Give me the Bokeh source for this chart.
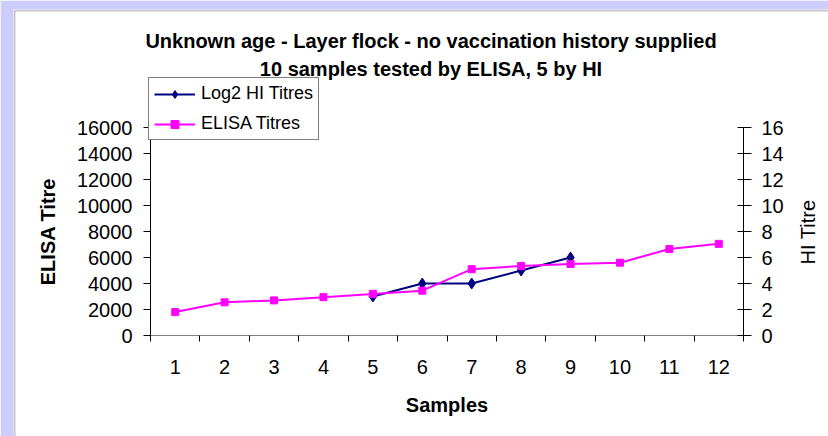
import math
from bokeh.plotting import figure
from bokeh.models import (Range1d, LinearAxis, FixedTicker, Legend, LegendItem,
                          Label, BoxAnnotation)
from bokeh.embed import file_html
from bokeh.resources import INLINE

# ---------------- data ----------------
samples = [1, 2, 3, 4, 5, 6, 7, 8, 9, 10, 11, 12]
elisa_titres = [1800, 2550, 2700, 2950, 3200, 3450, 5100, 5350, 5500, 5600, 6650, 7050]
hi_log2_titres = [math.nan, math.nan, math.nan, math.nan, 3, 4, 4, 5, 6,
                  math.nan, math.nan, math.nan]
elisa_ticks = [0, 2000, 4000, 6000, 8000, 10000, 12000, 14000, 16000]
hi_ticks = [0, 2, 4, 6, 8, 10, 12, 14, 16]
title_lines = ["Unknown age - Layer flock - no vaccination history supplied",
               "10 samples tested by ELISA, 5 by HI"]
series_names = ["Log2 HI Titres", "ELISA Titres"]
right_axis_title = "HI Titre"

# ---------------- layout (pixels) ----------------
W, H = 828, 436
CL, CT = 13, 9                 # white chart area top-left (rest is lavender)
PL, PR, PT, PB = 150, 743, 127, 335   # plot area edges
FONT = "Liberation Sans"

X0, X1 = samples[0] - 0.5, samples[-1] + 0.5
Y1 = elisa_ticks[-1]
HI1 = hi_ticks[-1]
xs = (X1 - X0) / (PR - PL)        # data per px
ys = Y1 / (PB - PT)
hs_ = HI1 / (PB - PT)


def px_to_x(px):
    return X0 + (px - PL) * xs


def px_to_y(py):
    return (PB - py) * ys


x_range = Range1d(px_to_x(CL), px_to_x(W))
y_range = Range1d(px_to_y(H), px_to_y(CT))
hi_range = Range1d((PB - H) * hs_, (PB - CT) * hs_)

p = figure(width=W, height=H, output_backend="svg", toolbar_location=None,
           x_range=x_range, y_range=y_range,
           x_axis_type=None, y_axis_type=None,
           min_border_left=CL, min_border_right=0,
           min_border_top=CT, min_border_bottom=0)
p.border_fill_color = "#CCCCFF"
p.background_fill_color = "white"
p.outline_line_color = None
p.extra_y_ranges = {"hi": hi_range}

# dark border of the chart area (left / top edges)
p.add_layout(BoxAnnotation(left=px_to_x(CL + 1), right=px_to_x(W + 60),
                           top=px_to_y(CT + 1), bottom=px_to_y(H + 60),
                           fill_alpha=0, line_color="#404040", line_width=2,
                           level="underlay"))

# ---------------- axes ----------------
xaxis = LinearAxis(ticker=FixedTicker(ticks=samples,
                                      minor_ticks=[s - 0.5 for s in samples] + [samples[-1] + 0.5]),
                   axis_label="Samples", fixed_location=0, bounds=(X0, X1))
xaxis.major_tick_out = 0
xaxis.major_tick_in = 0
xaxis.minor_tick_out = 6
xaxis.minor_tick_in = 0
xaxis.minor_tick_line_color = "black"
xaxis.axis_line_color = "#808080"
xaxis.major_label_standoff = 18
xaxis.axis_label_standoff = 17
p.add_layout(xaxis, "below")

yaxis = LinearAxis(ticker=FixedTicker(ticks=elisa_ticks), axis_label="ELISA Titre",
                   fixed_location=X0, bounds=(0, Y1))
yaxis.major_tick_out = 7
yaxis.major_tick_in = 0
yaxis.minor_tick_out = 0
yaxis.minor_tick_in = 0
yaxis.major_label_standoff = 11
yaxis.axis_label_standoff = 15
p.add_layout(yaxis, "left")

raxis = LinearAxis(y_range_name="hi", ticker=FixedTicker(ticks=hi_ticks),
                   fixed_location=X1, bounds=(0, HI1))
raxis.major_tick_out = 8
raxis.major_tick_in = 6
raxis.minor_tick_out = 0
raxis.minor_tick_in = 0
raxis.major_label_standoff = 10
p.add_layout(raxis, "right")

for ax in (xaxis, yaxis, raxis):
    ax.major_label_text_font = FONT
    ax.major_label_text_font_size = "20px"
    ax.major_label_text_color = "black"
    ax.axis_label_text_font = FONT
    ax.axis_label_text_font_size = "20px"
    ax.axis_label_text_color = "black"
    ax.major_tick_line_color = "black"
xaxis.axis_label_text_font_style = "bold"
yaxis.axis_label_text_font_style = "bold"
yaxis.axis_line_color = "black"
raxis.axis_line_color = "black"

# right axis title, reading bottom-to-top
p.add_layout(Label(x=px_to_x(807), y=px_to_y(231.5), text=right_axis_title,
                   angle=math.pi / 2, text_align="center", text_baseline="middle",
                   text_font=FONT, text_font_size="20px", text_color="black"))

# ---------------- series ----------------
hl = p.line(samples, hi_log2_titres, y_range_name="hi", line_color="#000080", line_width=2)
hm = p.scatter(samples, hi_log2_titres, y_range_name="hi", marker="diamond", size=11,
               fill_color="#000080", line_color="#000080")
el = p.line(samples, elisa_titres, line_color="#FF00FF", line_width=2)
em = p.scatter(samples, elisa_titres, marker="square", size=7,
               fill_color="#FF00FF", line_color="#FF00FF")

LEG_L, LEG_T, LEG_H = 148, 75, 65
legend = Legend(items=[LegendItem(label=series_names[0], renderers=[hl, hm]),
                       LegendItem(label=series_names[1], renderers=[el, em])],
                location=(LEG_L - CL, H - LEG_T - LEG_H))
legend.label_text_font = FONT
legend.label_text_font_size = "18px"
legend.label_text_color = "black"
legend.glyph_width = 41
legend.glyph_height = 20
legend.label_height = 20
legend.label_standoff = 6
legend.spacing = 9
legend.padding = 5
legend.margin = 0
legend.border_line_color = "black"
legend.border_line_width = 1
legend.background_fill_color = "white"
legend.background_fill_alpha = 1.0
p.add_layout(legend)

# ---------------- titles ----------------
for text, base in zip(title_lines, (40.7, 68.3)):
    p.add_layout(Label(x=px_to_x(430.5), y=px_to_y(base), text=text,
                       text_align="center", text_baseline="alphabetic",
                       text_font=FONT, text_font_style="bold",
                       text_font_size="20px", text_color="black"))

open("out.html", "w").write(file_html(p, INLINE))
